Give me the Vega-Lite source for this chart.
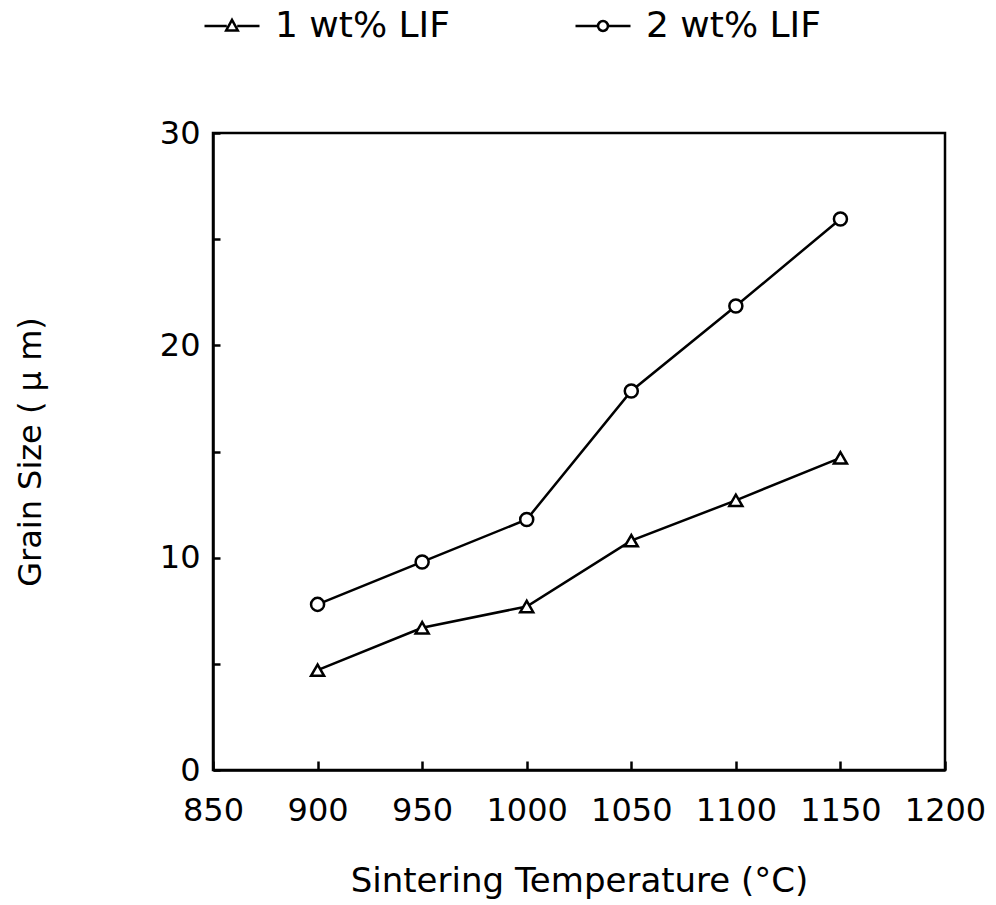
{
  "$schema": "https://vega.github.io/schema/vega-lite/v6.json",
  "width": 732,
  "height": 637,
  "autosize": {"type": "none"},
  "padding": {"left": 213, "top": 133, "right": 51, "bottom": 135},
  "background": "white",
  "config": {
    "font": "DejaVu Sans",
    "view": {"stroke": "black", "strokeWidth": 2.5},
    "axis": {
      "grid": false,
      "domainColor": "black",
      "domainWidth": 2.5,
      "tickColor": "black",
      "tickWidth": 2.5,
      "labelColor": "black",
      "titleColor": "black",
      "labelFont": "DejaVu Sans",
      "titleFont": "DejaVu Sans",
      "labelFontWeight": "normal",
      "titleFontWeight": "normal"
    }
  },
  "data": {
    "values": [
      {"temp": 900, "size": 4.7, "series": "1 wt% LIF"},
      {"temp": 950, "size": 6.7, "series": "1 wt% LIF"},
      {"temp": 1000, "size": 7.7, "series": "1 wt% LIF"},
      {"temp": 1050, "size": 10.8, "series": "1 wt% LIF"},
      {"temp": 1100, "size": 12.7, "series": "1 wt% LIF"},
      {"temp": 1150, "size": 14.7, "series": "1 wt% LIF"},
      {"temp": 900, "size": 7.8, "series": "2 wt% LIF"},
      {"temp": 950, "size": 9.8, "series": "2 wt% LIF"},
      {"temp": 1000, "size": 11.8, "series": "2 wt% LIF"},
      {"temp": 1050, "size": 17.85, "series": "2 wt% LIF"},
      {"temp": 1100, "size": 21.85, "series": "2 wt% LIF"},
      {"temp": 1150, "size": 25.95, "series": "2 wt% LIF"}
    ]
  },
  "encoding": {
    "x": {
      "field": "temp",
      "type": "quantitative",
      "scale": {"domain": [850, 1200], "nice": false, "zero": false},
      "axis": {
        "values": [850, 900, 950, 1000, 1050, 1100, 1150, 1200],
        "format": "d",
        "title": "Sintering Temperature (°C)",
        "titleFontSize": 34,
        "titlePadding": 38,
        "labelFontSize": 32,
        "labelPadding": 34,
        "tickSize": -9,
        "labelFlush": false
      }
    },
    "y": {
      "field": "size",
      "type": "quantitative",
      "scale": {"domain": [0, 30], "nice": false},
      "axis": {
        "values": [0, 5, 10, 15, 20, 25, 30],
        "labelExpr": "datum.value % 10 == 0 ? datum.label : ''",
        "title": "Grain Size ( μ m)",
        "titleFontSize": 32,
        "titlePadding": 112,
        "labelFontSize": 32,
        "labelPadding": 20,
        "tickSize": -7,
        "labelFlush": false
      }
    }
  },
  "layer": [
    {
      "mark": {"type": "line", "stroke": "black", "strokeWidth": 2.5},
      "encoding": {"detail": {"field": "series"}}
    },
    {
      "mark": {"type": "point", "filled": true, "fill": "white", "stroke": "black", "strokeWidth": 2.5, "size": 170, "opacity": 1},
      "encoding": {
        "shape": {
          "field": "series",
          "type": "nominal",
          "scale": {"domain": ["1 wt% LIF", "2 wt% LIF"], "range": ["triangle-up", "circle"]},
          "legend": null
        }
      }
    },
    {
      "mark": {"type": "point", "filled": false, "color": "black", "strokeWidth": 2.5, "size": 3025, "opacity": 0},
      "encoding": {
        "shape": {
          "field": "series",
          "type": "nominal",
          "scale": {
            "domain": ["1 wt% LIF", "2 wt% LIF"],
            "range": [
              "M-1,0L-0.19,0M0.19,0L1,0M-0.21,0.16L0,-0.22L0.21,0.16Z",
              "M-1,0L-0.18,0M0.18,0L1,0M-0.18,0A0.18,0.18 0 1,1 0.18,0A0.18,0.18 0 1,1 -0.18,0Z"
            ]
          },
          "legend": {
            "title": null,
            "orient": "none",
            "direction": "horizontal",
            "legendX": -10,
            "legendY": -136,
            "padding": 0,
            "symbolSize": 3025,
            "symbolStrokeWidth": 2.5,
            "symbolStrokeColor": "black",
            "symbolOpacity": 1,
            "labelFontSize": 36,
            "labelLimit": 400,
            "labelColor": "black",
            "labelFont": "DejaVu Sans",
            "labelOffset": 14,
            "columnPadding": 120
          }
        }
      }
    }
  ],
  "resolve": {"scale": {"shape": "independent"}, "legend": {"shape": "independent"}}
}
